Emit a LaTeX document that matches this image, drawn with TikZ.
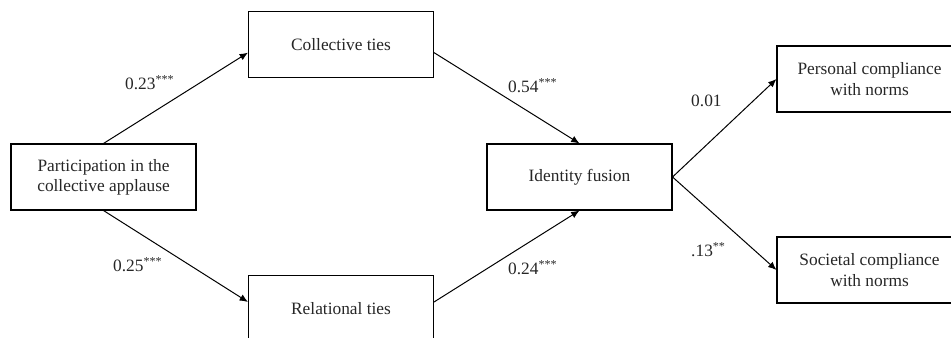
\documentclass[tikz,border=0pt]{standalone}
\usepackage{fontspec}
\setmainfont{Liberation Serif}
\usepackage{tikz}
\usetikzlibrary{arrows.meta,positioning,calc}
\tikzstyle{block}=[draw,line width=0.9pt,minimum width=5.55cm,minimum height=1.98cm,inner sep=2pt,align=center,text=black!85,font=\fontsize{14.8}{17.2}\selectfont]
\tikzstyle{coef}=[anchor=west,inner sep=0pt,text=black!85,font=\fontsize{14.8}{17.2}\selectfont]
\tikzstyle{path}=[-{Latex[length=2.5mm,width=2.1mm]},line width=0.85pt]

\begin{document}
\begin{tikzpicture}
      \useasboundingbox (0,0) rectangle (28.53,10.14);
      \node[block] at (3.105, 4.83) (part) {Participation in the\\collective applause};
			\node[block] at (10.23, 8.805) (coll) {Collective ties};
			\node[block] at (10.23, 0.885) (rel) {Relational ties};
			\node[block] at (17.385, 4.83) (fus) {Identity fusion};
			\node[block] at (26.085, 7.77) (pers) {Personal compliance\\with norms};
			\node[block] at (26.085, 2.04) (soc) {Societal compliance\\with norms};

			\node[coef] at (3.75, 7.65) (c1) {0.23\textsuperscript{***}};
			\node[coef] at (3.39, 2.19) (c2) {0.25\textsuperscript{***}};
			\node[coef] at (15.24, 7.56) (c3) {0.54\textsuperscript{***}};
			\node[coef] at (15.24, 2.10) (c4) {0.24\textsuperscript{***}};
			\node[coef] at (20.73, 7.11) (c5) {0.01};
			\node[coef] at (20.73, 2.64) (c6) {.13\textsuperscript{**}};

      \draw[path] (part.north) -- (coll.185);
			\draw[path] (part.south) -- (rel.176);
			\draw[path] (coll.355) -- (fus.north);
			\draw[path] (rel.4) -- (fus.south);
			\draw[path] (fus.east) -- (pers.west);
			\draw[path] (fus.east) -- (soc.west);
  	\end{tikzpicture}
\end{document}
